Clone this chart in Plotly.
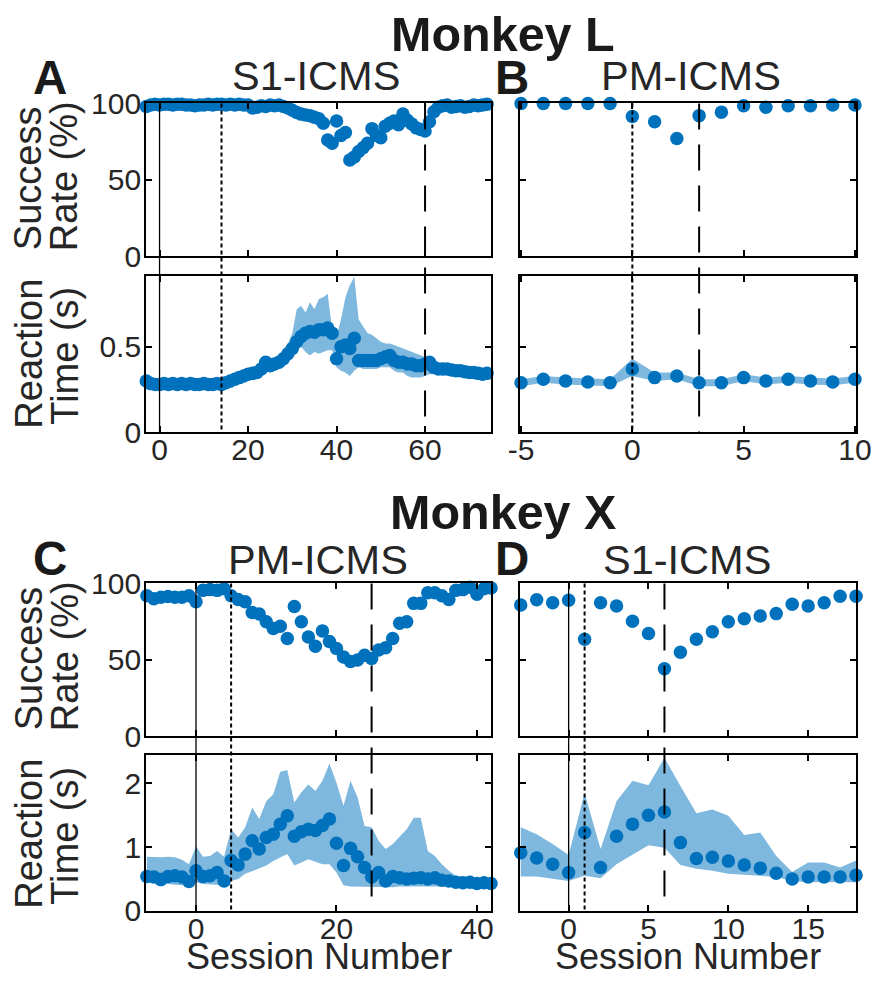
import plotly.graph_objects as go

# ---------------- data ----------------
sess_A = list(range(-3, 76))
succ_A = [98, 99, 99.5, 99, 99.5, 99.5, 99, 99.5, 99.5, 99,
          99, 98.5, 99, 99, 99.5, 99, 99.5, 99.5, 99, 99.5,
          99, 99.5, 99, 99, 97, 97.5, 98.5, 98, 99, 98.5,
          99, 98, 97, 95.5, 94, 93, 92.5, 92, 91, 90,
          87, 76, 74, 88.5, 79, 81, 63, 65, 68.5, 71,
          74, 83.5, 79, 77.5, 85, 87, 88.5, 86, 93, 89,
          86.5, 84, 83, 82, 88, 94.5, 97.5, 98.5, 99, 97.5,
          98, 98.5, 97.5, 98, 99, 98.5, 99, 99.5, 99.5]
rt_A = [0.30, 0.285, 0.28, 0.28, 0.285, 0.28, 0.285, 0.28, 0.285, 0.28,
        0.285, 0.28, 0.28, 0.285, 0.28, 0.28, 0.285, 0.28, 0.29, 0.30,
        0.31, 0.32, 0.33, 0.34, 0.345, 0.35, 0.37, 0.41, 0.39, 0.40,
        0.41, 0.43, 0.46, 0.49, 0.53, 0.56, 0.58, 0.59, 0.585, 0.60,
        0.60, 0.61, 0.58, 0.43, 0.50, 0.51, 0.49, 0.55, 0.42, 0.42,
        0.42, 0.42, 0.42, 0.43, 0.44, 0.45, 0.42, 0.41, 0.41, 0.40,
        0.40, 0.39, 0.39, 0.40, 0.41, 0.38, 0.37, 0.37, 0.37, 0.365,
        0.36, 0.36, 0.355, 0.35, 0.35, 0.345, 0.34, 0.345, 0.35]
rt_A_hi = [0.32, 0.305, 0.30, 0.30, 0.305, 0.30, 0.305, 0.30, 0.305, 0.30,
           0.305, 0.30, 0.30, 0.305, 0.30, 0.30, 0.305, 0.30, 0.31, 0.32,
           0.33, 0.34, 0.35, 0.36, 0.37, 0.38, 0.40, 0.43, 0.42, 0.43,
           0.45, 0.48, 0.52, 0.58, 0.72, 0.74, 0.70, 0.76, 0.72, 0.78,
           0.79, 0.81, 0.60, 0.56, 0.66, 0.79, 0.86, 0.91, 0.66, 0.62,
           0.58, 0.57, 0.55, 0.53, 0.52, 0.52, 0.51, 0.50, 0.49, 0.48,
           0.47, 0.46, 0.45, 0.44, 0.43, 0.40, 0.39, 0.39, 0.38, 0.38,
           0.38, 0.37, 0.37, 0.37, 0.36, 0.36, 0.36, 0.36, 0.37]
rt_A_lo = [0.28, 0.265, 0.26, 0.26, 0.265, 0.26, 0.265, 0.26, 0.265, 0.26,
           0.265, 0.26, 0.26, 0.265, 0.26, 0.26, 0.265, 0.26, 0.27, 0.28,
           0.29, 0.30, 0.31, 0.32, 0.325, 0.33, 0.345, 0.38, 0.365, 0.375,
           0.385, 0.40, 0.43, 0.45, 0.48, 0.50, 0.47, 0.45, 0.47, 0.46,
           0.47, 0.48, 0.48, 0.38, 0.36, 0.35, 0.33, 0.36, 0.38, 0.37,
           0.37, 0.37, 0.37, 0.38, 0.38, 0.38, 0.36, 0.35, 0.35, 0.33,
           0.32, 0.32, 0.32, 0.33, 0.34, 0.34, 0.34, 0.34, 0.34, 0.34,
           0.335, 0.335, 0.33, 0.33, 0.33, 0.33, 0.325, 0.33, 0.335]

sess_B = list(range(-5, 11))
succ_B = [100, 100, 100, 100, 100, 91.5, 88, 77, 92, 94.3, 98.5, 97.5, 98.5, 98.5, 99, 99]
rt_B = [0.29, 0.31, 0.30, 0.295, 0.29, 0.37, 0.32, 0.33, 0.29, 0.29, 0.32, 0.30, 0.31, 0.30, 0.295, 0.31]
rt_B_hi = [0.31, 0.33, 0.32, 0.315, 0.31, 0.43, 0.35, 0.35, 0.31, 0.31, 0.34, 0.32, 0.33, 0.32, 0.315, 0.33]
rt_B_lo = [0.27, 0.29, 0.28, 0.275, 0.27, 0.33, 0.30, 0.31, 0.27, 0.27, 0.30, 0.28, 0.29, 0.28, 0.275, 0.29]

sess_C = list(range(-7, 43))
succ_C = [92, 90, 91, 91.5, 91, 91, 92, 88, 95.5, 96,
          95.5, 96.5, 92, 89.5, 88, 81, 80, 75, 70.5, 72,
          64, 85, 75, 65, 59, 69, 62, 57.5, 52, 49,
          50, 53, 51, 56.5, 58, 64, 74, 75, 87, 87,
          94, 94, 92, 89.5, 95.5, 96, 97.5, 93, 96.5, 97]
rt_C = [0.54, 0.53, 0.49, 0.54, 0.55, 0.53, 0.46, 0.63, 0.54, 0.55,
        0.60, 0.47, 0.79, 0.72, 0.89, 1.10, 0.97, 1.15, 1.20, 1.36,
        1.49, 1.17, 1.24, 1.28, 1.26, 1.34, 1.44, 1.06, 0.71, 0.98,
        0.85, 0.68, 0.53, 0.60, 0.47, 0.54, 0.52, 0.50, 0.51, 0.52,
        0.50, 0.52, 0.48, 0.47, 0.45, 0.44, 0.45, 0.43, 0.44, 0.43]
rt_C_hi = [0.85, 0.84, 0.84, 0.85, 0.84, 0.80, 0.73, 1.01, 0.85, 0.86,
           0.94, 0.85, 1.28, 1.15, 1.31, 1.62, 1.44, 1.72, 1.83, 2.18,
           2.21, 1.70, 1.86, 1.98, 1.88, 2.04, 2.31, 2.01, 1.65, 2.04,
           1.78, 1.33, 1.31, 1.10, 0.97, 1.05, 1.17, 1.28, 1.46, 1.46,
           0.94, 0.86, 0.73, 0.63, 0.55, 0.53, 0.52, 0.50, 0.50, 0.49]
rt_C_lo = [0.45, 0.44, 0.43, 0.42, 0.41, 0.40, 0.39, 0.45, 0.42, 0.42,
           0.41, 0.40, 0.47, 0.50, 0.58, 0.62, 0.66, 0.71, 0.78, 0.84,
           0.89, 0.71, 0.76, 0.81, 0.77, 0.73, 0.73, 0.60, 0.40, 0.38,
           0.37, 0.37, 0.37, 0.37, 0.37, 0.37, 0.38, 0.38, 0.39, 0.39,
           0.39, 0.39, 0.39, 0.38, 0.38, 0.38, 0.38, 0.38, 0.38, 0.38]

sess_D = list(range(-3, 19))
succ_D = [86, 89.4, 87.4, 89, 63.6, 87.4, 85.3, 75.3, 67.3, 44.2, 55,
          63.6, 68.4, 75, 77, 78.8, 80.3, 86.4, 85.3, 87.4, 91.6, 91.6]
rt_D = [0.91, 0.83, 0.73, 0.60, 1.23, 0.68, 1.17, 1.36, 1.50, 1.55, 1.07,
        0.82, 0.84, 0.78, 0.72, 0.67, 0.59, 0.50, 0.53, 0.53, 0.53, 0.56]
rt_D_hi = [1.31, 1.20, 1.05, 0.875, 1.85, 0.97, 1.72, 2.04, 1.97, 2.40, 1.96,
           1.53, 1.59, 1.49, 1.19, 1.23, 0.86, 0.61, 0.76, 0.76, 0.68, 0.79]
rt_D_lo = [0.54, 0.54, 0.50, 0.47, 0.55, 0.51, 0.73, 0.875, 1.03, 0.99, 0.72,
           0.66, 0.63, 0.58, 0.56, 0.55, 0.53, 0.47, 0.45, 0.45, 0.45, 0.45]

events_A = [0, 14, 60]
events_B = [None, 0, 3]
events_C = [0, 5, 25]
events_D = [0, 1, 6]

# ---------------- geometry ----------------
W, H = 875, 986
BLUE = "#0072BD"
BAND = "rgba(0,114,189,0.5)"
FONT = "Liberation Sans, Arial, sans-serif"
TXT = "#262626"

# positions below are given in target-picture pixels and converted to
# paper fractions (the photographed page is shown slightly inset/scaled)
SX, OX = 0.967, 14.3
SY, OY = 0.9686, 15.0


def wxp(x):
    return min(max((x - OX) / SX, 0), W)


def wyp(y):
    return min(max((y - OY) / SY, 0), H)


def px(x):
    return wxp(x) / W


def py(y):
    return 1 - wyp(y) / H


colL = (148.3, 492.8)
colR = (521.7, 857.5)
rows = {"At": (101.7, 255), "Ab": (275, 431.7), "Ct": (583.3, 736.7), "Cb": (755, 911.7)}

panels = [
    ("A", colL, "At", "Ab", [-3.03, 74.9], [0, 20, 40, 60], sess_A, succ_A, rt_A, rt_A_hi, rt_A_lo, events_A, True, [0, 0.913], [0, 0.5]),
    ("B", colR, "At", "Ab", [-5.05, 10.05], [-5, 0, 5, 10], sess_B, succ_B, rt_B, rt_B_hi, rt_B_lo, events_B, False, [0, 0.913], [0, 0.5]),
    ("C", colL, "Ct", "Cb", [-7.1, 42.0], [0, 20, 40], sess_C, succ_C, rt_C, rt_C_hi, rt_C_lo, events_C, True, [0, 2.45], [0, 1, 2]),
    ("D", colR, "Ct", "Cb", [-3.05, 18.0], [0, 5, 10, 15], sess_D, succ_D, rt_D, rt_D_hi, rt_D_lo, events_D, False, [0, 2.45], [0, 1, 2]),
]

fig = go.Figure()
layout = {}
shapes = []
tickfont = dict(family=FONT, size=30, color=TXT)

ax = 0
for (name, col, rt_row, rb_row, xr, xt, sess, succ, rt, hi, lo, ev, ylab, rtr, rtt) in panels:
    top_xref = None
    for part in ("top", "bot"):
        ax += 1
        sfx = "" if ax == 1 else str(ax)
        row = rows[rt_row] if part == "top" else rows[rb_row]
        layout["xaxis" + sfx] = dict(
            domain=[px(col[0]), px(col[1])], range=xr, anchor="y" + sfx,
            tickvals=xt, ticktext=[str(v) for v in xt],
            showticklabels=(part == "bot"), ticks="inside",
            ticklen=6, tickwidth=1.5, tickcolor="black", showline=True,
            linewidth=2, linecolor="black", mirror="ticks", showgrid=False,
            zeroline=False, tickfont=tickfont, ticklabeloverflow="allow",
            ticklabelstandoff=-10,
        )
        yt = [0, 50, 100] if part == "top" else rtt
        layout["yaxis" + sfx] = dict(
            domain=[py(row[1]), py(row[0])],
            range=[0, 100] if part == "top" else rtr,
            tickvals=yt, ticktext=[str(v) for v in yt],
            anchor="x" + sfx, showticklabels=ylab, ticks="inside",
            ticklen=6, tickwidth=1.5, tickcolor="black", showline=True,
            linewidth=2, linecolor="black", mirror="ticks", showgrid=False,
            zeroline=False, tickfont=tickfont, ticklabeloverflow="allow",
            ticklabelstandoff=-3,
        )
        xa, ya = "x" + sfx, "y" + sfx
        if part == "top":
            fig.add_trace(go.Scatter(x=sess, y=succ, mode="markers", xaxis=xa, yaxis=ya,
                                     marker=dict(size=13.5, color=BLUE), cliponaxis=False,
                                     showlegend=False, hoverinfo="skip"))
            top_xref = xa
        else:
            fig.add_trace(go.Scatter(x=list(sess) + list(sess)[::-1], y=list(hi) + list(lo)[::-1],
                                     mode="lines", fill="toself", fillcolor=BAND,
                                     line=dict(width=0), xaxis=xa, yaxis=ya,
                                     showlegend=False, hoverinfo="skip"))
            fig.add_trace(go.Scatter(x=sess, y=rt, mode="markers", xaxis=xa, yaxis=ya,
                                     marker=dict(size=13.5, color=BLUE), cliponaxis=False,
                                     showlegend=False, hoverinfo="skip"))
    y_top, y_bot = py(rows[rt_row][0]), py(rows[rb_row][1])
    styles = [dict(color="black", width=1.3),
              dict(color="black", width=2, dash="4px,3px"),
              dict(color="black", width=2, dash="26px,15px")]
    for pos, st in zip(ev, styles):
        if pos is None:
            continue
        shapes.append(dict(type="line", xref=top_xref, yref="paper", x0=pos, x1=pos,
                           y0=y_top, y1=y_bot, line=st, layer="above"))

annotations = []


def ann(text, x, y, size, bold=False, angle=0):
    annotations.append(dict(
        text=("<b>%s</b>" % text) if bold else text, x=px(x), y=py(y),
        xref="paper", yref="paper", xanchor="center", yanchor="middle",
        showarrow=False, textangle=angle,
        font=dict(family=FONT, size=size, color="#1a1a1a" if bold else TXT)))


ann("Monkey L", 505, 32, 48.5, bold=True)
ann("Monkey X", 505, 512, 48.5, bold=True)
ann("A", 52, 76, 47.5, bold=True)
ann("B", 514, 76, 47.5, bold=True)
ann("C", 52, 558, 47.5, bold=True)
ann("D", 514, 558, 47.5, bold=True)
ann("S1-ICMS", 318, 74, 41.5)
ann("PM-ICMS", 693, 74, 41.5)
ann("PM-ICMS", 320, 559, 41.5)
ann("S1-ICMS", 689, 559, 41.5)
for dy in (0, 481.6):
    ann("Success", 31, 177 + dy, 38, angle=-90)
    ann("Rate (%)", 67, 175 + dy, 38, angle=-90)
    ann("Reaction", 31, 353 + dy, 38, angle=-90)
    ann("Time (s)", 67, 355 + dy, 38, angle=-90)
ann("Session Number", 321, 957, 36)
ann("Session Number", 690, 957, 36)

fig.update_layout(
    width=W, height=H, margin=dict(l=0, r=0, t=0, b=0),
    paper_bgcolor="white", plot_bgcolor="white",
    shapes=shapes, annotations=annotations, showlegend=False,
    **layout,
)

fig.write_html(
    "out.html",
    config={"displayModeBar": False, "responsive": False},
    post_script=("document.body.style.margin='0';"
                 "document.body.style.overflow='hidden';"),
)
